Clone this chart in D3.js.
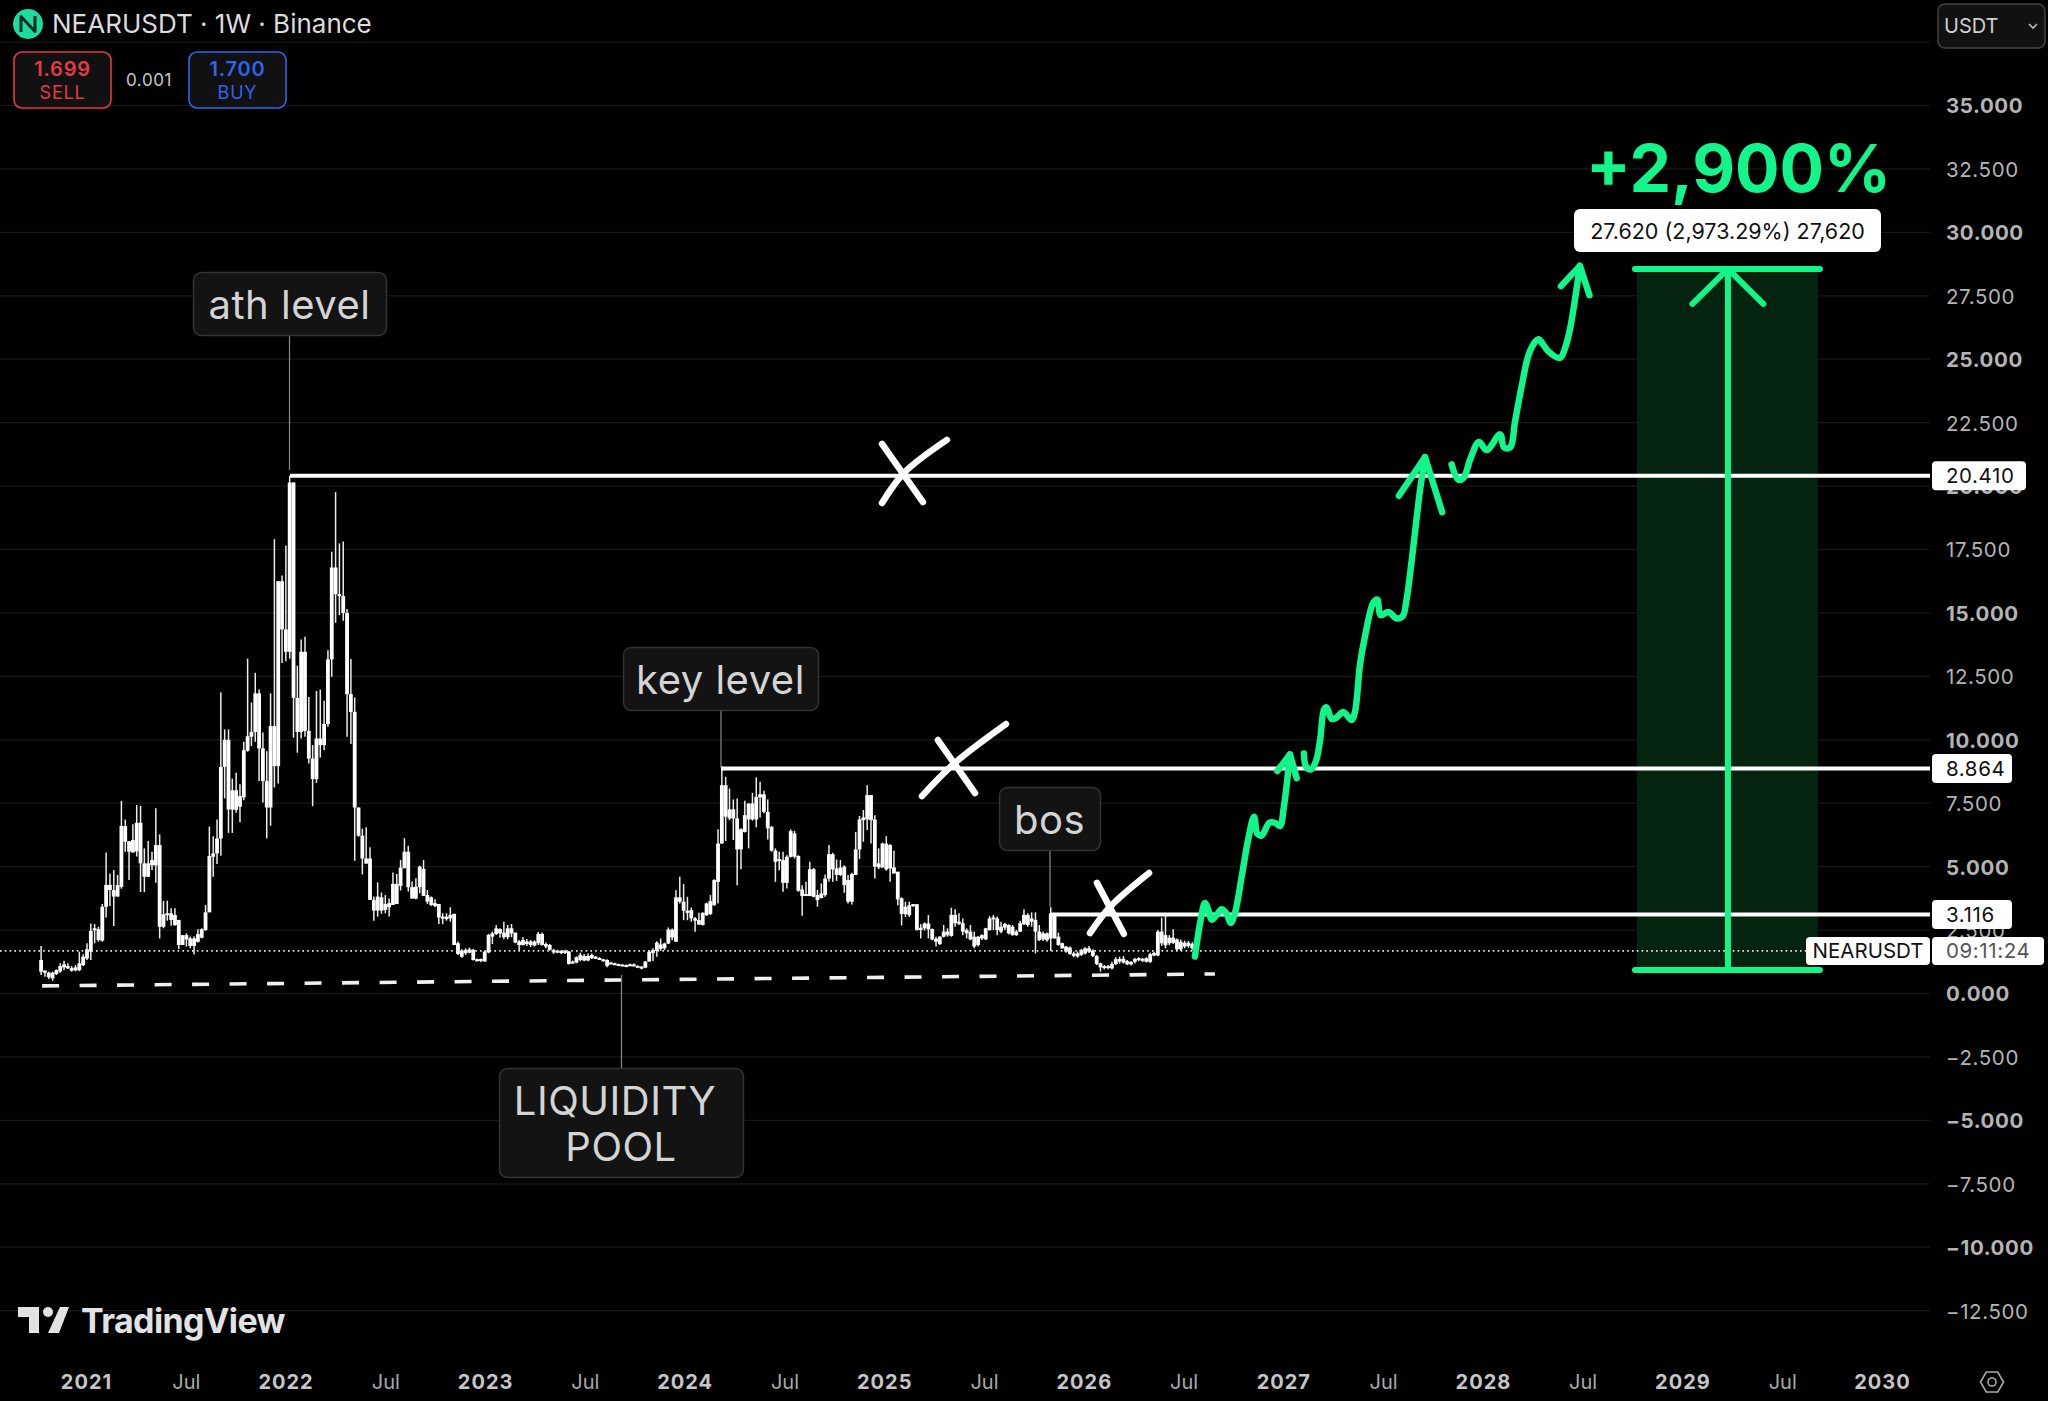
<!DOCTYPE html>
<meta charset="utf-8">
<script src="https://d3js.org/d3.v7.min.js"></script>
<style>
body { margin: 0; background: #000; }
svg { display: block; }
text { font-family: Inter, "Noto Sans", sans-serif; }
</style>
<div id="chart"></div>
<script>
// weekly candles, one entry per week starting in Oct 2020
const firstWeek = 2020.775;
const bodyTop = [
1.32,.90,.82,.82,.92,1.08,1.15,1.08,1.00,1.03,
1.19,1.45,1.74,2.47,2.57,2.54,3.42,4.28,4.28,4.08,
4.28,6.60,6.60,6.00,6.05,6.73,6.73,5.13,5.13,5.26,
5.85,5.85,3.12,3.16,3.16,3.09,2.90,2.30,2.30,2.17,
2.17,2.34,2.53,3.20,5.42,5.52,6.11,8.93,10.00,10.00,
8.01,8.01,7.78,9.59,10.14,10.31,11.83,11.83,9.66,8.38,
10.54,10.54,16.25,16.25,14.35,20.14,20.14,11.65,13.47,13.47,
10.35,9.26,10.05,10.05,10.62,13.17,16.79,16.79,15.74,15.66,
15.00,11.80,11.10,7.33,6.22,5.32,5.32,3.69,3.82,3.79,
3.53,3.56,4.32,4.32,4.96,5.59,5.59,4.19,4.21,5.00,
4.91,3.88,3.79,3.56,3.53,3.03,3.03,3.10,3.14,1.98,
1.69,1.72,1.74,1.72,1.35,1.36,1.65,2.31,2.37,2.57,
2.54,2.40,2.57,2.57,2.40,2.05,2.11,2.05,2.05,2.05,
2.35,2.35,1.95,1.91,1.72,1.69,1.68,1.68,1.65,1.26,
1.43,1.52,1.48,1.48,1.52,1.45,1.40,1.35,1.32,1.22,
1.19,1.16,1.14,1.12,1.15,1.15,1.09,1.06,1.26,1.65,
1.71,2.00,1.93,1.97,2.52,2.52,3.79,3.79,3.62,3.26,
3.29,2.96,2.89,3.18,3.55,3.65,4.47,5.91,8.21,8.21,
7.26,7.26,6.90,6.47,7.03,7.49,7.49,7.75,7.85,7.85,
7.16,6.57,5.63,5.30,5.26,5.39,6.40,6.31,5.42,4.10,
3.92,4.90,4.90,3.88,3.94,4.53,5.49,5.49,4.93,4.96,
5.00,4.47,4.71,5.68,6.86,6.94,7.82,7.82,6.86,5.13,
5.91,5.91,5.85,4.97,4.80,3.75,3.42,3.48,3.52,3.52,
2.59,2.76,2.76,2.54,2.16,2.24,2.44,2.44,3.10,3.10,
2.83,2.77,2.50,2.44,2.24,2.24,2.30,2.57,2.96,3.00,
2.96,2.63,2.74,2.70,2.63,2.44,2.77,3.10,3.10,2.96,
2.90,2.44,2.37,2.37,3.16,3.16,2.24,1.98,1.85,1.81,
1.58,1.58,1.72,1.78,1.78,1.69,1.48,1.19,1.08,1.08,
1.16,1.35,1.36,1.37,1.28,1.24,1.36,1.39,1.37,1.39,
1.55,1.60,2.44,2.44,2.30,2.20,2.20,2.13,2.04,2.00,
2.00,1.95,1.78];
const bodyBottom = [
.86,.83,.64,.60,.77,.87,1.03,.99,.90,.91,
.92,1.12,1.38,1.65,2.53,2.11,2.08,3.42,4.08,3.82,
3.82,4.20,5.98,5.59,5.56,5.60,5.13,4.60,4.60,5.05,
5.05,2.63,2.63,3.09,2.90,2.70,1.91,1.91,2.13,1.87,
1.87,2.04,2.20,2.50,3.20,5.39,5.52,6.11,8.93,7.25,
7.25,7.23,7.36,7.73,9.57,10.12,10.31,9.66,8.38,7.33,
7.33,8.96,8.96,14.35,13.47,13.47,11.65,10.31,10.31,10.35,
9.26,8.45,8.45,9.79,9.79,10.62,13.17,15.74,15.66,15.00,
11.80,11.10,7.33,6.22,5.32,5.12,3.69,3.27,3.27,3.27,
3.29,3.40,3.49,3.53,4.24,4.94,4.19,3.74,3.74,4.19,
3.85,3.62,3.49,3.45,3.00,2.96,2.93,2.96,1.91,1.56,
1.45,1.59,1.61,1.32,1.30,1.30,1.26,1.62,2.24,2.35,
2.37,2.22,2.22,2.37,2.01,1.91,1.91,1.95,1.91,1.89,
1.98,1.91,1.85,1.72,1.62,1.61,1.59,1.61,1.16,1.19,
1.22,1.32,1.30,1.30,1.39,1.38,1.35,1.28,1.09,1.17,
1.15,1.12,1.10,1.09,1.10,1.07,1.05,.98,1.02,1.26,
1.60,1.68,1.76,1.78,1.97,2.21,2.04,3.62,3.26,3.18,
2.96,2.87,2.72,2.70,3.08,3.13,3.48,4.40,5.91,6.97,
6.90,6.90,5.68,5.68,6.37,6.86,6.86,6.86,7.73,7.16,
6.51,5.63,5.19,5.22,4.36,4.36,5.39,5.39,4.05,3.84,
3.88,3.84,3.81,3.68,3.76,3.88,4.53,4.89,4.67,4.67,
4.27,3.62,3.62,4.67,5.68,6.83,6.86,6.83,5.00,4.97,
4.97,4.89,4.93,4.73,3.71,3.13,3.13,3.09,3.46,2.50,
2.50,2.57,2.53,2.13,2.04,1.95,2.24,2.30,2.27,2.77,
2.77,2.44,2.37,2.13,1.85,1.91,2.17,2.13,2.50,2.92,
2.50,2.44,2.60,2.37,2.30,2.30,2.44,2.73,2.70,2.83,
2.44,2.10,2.13,2.10,2.17,2.17,1.91,1.78,1.65,1.56,
1.48,1.46,1.52,1.58,1.65,1.48,1.16,1.03,1.02,1.01,
.99,1.16,1.26,1.22,1.15,1.15,1.25,1.32,1.29,1.25,
1.25,1.50,1.50,1.98,1.90,1.98,2.00,1.74,1.74,1.85,
1.87,1.78,1.65];
const wickHigh = [
1.87,.92,.86,.86,.95,1.19,1.29,1.19,1.08,1.12,
1.65,1.55,1.98,2.76,2.74,2.63,3.53,5.56,4.73,4.87,
4.67,7.59,6.86,6.00,6.67,7.43,7.39,5.72,6.01,5.59,
7.30,6.27,3.65,3.66,3.36,3.36,2.90,2.30,2.37,2.24,
2.26,2.53,2.57,3.49,6.58,6.20,6.86,11.87,10.41,10.41,
8.47,8.70,8.25,9.92,13.20,11.47,12.64,11.98,10.29,9.55,
11.83,17.91,16.25,16.48,17.66,20.41,20.14,12.92,13.95,14.06,
11.69,9.79,11.92,11.98,11.54,13.53,17.41,19.76,17.74,17.82,
15.15,13.18,11.67,7.33,6.50,6.55,5.76,3.82,4.38,3.98,
3.88,3.74,4.77,4.71,5.26,6.12,5.82,4.41,4.54,5.04,
5.26,4.08,3.82,3.71,3.53,3.16,3.16,3.40,3.14,2.05,
1.74,1.78,1.81,1.76,1.38,1.38,1.69,2.35,2.44,2.70,
2.57,2.83,2.70,2.74,2.40,2.11,2.22,2.15,2.11,2.09,
2.43,2.40,2.01,1.95,1.76,1.72,1.70,1.72,1.68,1.30,
1.46,1.61,1.56,1.58,1.58,1.48,1.43,1.37,1.35,1.25,
1.21,1.18,1.16,1.14,1.18,1.18,1.11,1.08,1.28,1.69,
1.78,2.06,2.17,2.00,2.60,2.56,4.07,4.60,4.31,3.81,
3.39,3.02,3.18,3.20,3.58,3.88,4.50,6.47,8.96,8.54,
8.08,7.65,7.69,6.51,7.60,7.49,7.91,8.52,8.35,7.99,
7.65,6.60,5.72,5.59,5.59,5.45,6.47,6.41,5.45,4.27,
4.40,5.19,4.95,4.08,4.34,4.69,5.85,5.55,5.28,5.26,
5.05,4.67,4.76,6.37,7.00,7.23,8.21,7.82,7.03,5.72,
5.95,6.20,5.88,5.63,4.80,3.79,3.62,3.62,3.53,3.52,
2.73,2.80,3.09,2.56,2.24,2.26,2.70,2.57,3.38,3.32,
3.16,2.96,2.57,2.70,2.44,2.26,2.34,2.59,3.05,3.10,
3.03,2.83,2.79,2.73,2.70,2.50,2.87,3.32,3.16,3.20,
3.20,2.70,2.44,2.40,3.40,3.16,2.40,2.00,1.87,1.85,
1.65,1.65,1.76,1.82,1.87,1.74,1.52,1.21,1.12,1.12,
1.25,1.43,1.45,1.48,1.32,1.28,1.40,1.43,1.40,1.43,
1.61,1.65,2.50,2.99,3.09,2.30,2.53,2.17,2.13,2.08,
2.07,2.02,1.85];
const wickLow = [
.73,.66,.57,.50,.73,.82,.92,.97,.86,.88,
.88,1.08,1.32,1.32,1.98,2.04,2.04,3.00,3.45,2.66,
3.82,4.13,5.59,4.47,5.56,5.40,4.00,3.99,4.60,4.87,
4.37,2.17,2.57,2.87,2.67,2.67,1.75,1.91,1.85,1.78,
1.54,2.01,2.17,2.47,3.20,4.60,5.10,5.43,7.69,6.33,
6.33,7.12,6.75,7.62,9.53,9.75,9.92,8.38,7.53,6.11,
6.61,8.12,8.28,13.03,13.10,13.20,10.08,9.49,10.05,10.12,
9.07,7.38,8.30,9.30,9.59,10.51,12.48,14.61,14.91,14.69,
10.12,9.83,5.23,6.18,4.69,5.12,3.69,2.87,3.03,3.14,
3.16,3.03,3.49,3.53,4.06,4.94,4.02,3.74,3.71,3.95,
3.85,3.53,3.45,3.40,2.74,2.73,2.87,2.83,1.91,1.52,
1.41,1.52,1.59,1.30,1.26,1.23,1.26,1.59,1.95,2.31,
2.20,2.14,2.14,2.22,1.98,1.69,1.89,1.87,1.83,1.85,
1.91,1.89,1.78,1.69,1.56,1.59,1.56,1.56,1.14,1.17,
1.19,1.27,1.27,1.27,1.36,1.36,1.33,1.25,1.03,1.15,
1.13,1.10,1.08,1.07,1.08,1.05,1.03,.95,1.00,1.26,
1.28,1.45,1.68,1.71,1.95,2.10,2.04,3.55,2.89,2.89,
2.83,2.43,2.70,2.68,3.06,3.09,3.46,3.55,5.90,6.01,
6.83,6.05,4.27,4.90,6.35,5.72,6.81,6.55,6.94,7.10,
6.07,5.59,4.40,4.86,4.01,4.14,5.36,5.32,4.01,3.06,
3.84,3.84,3.79,3.42,3.75,3.81,4.40,4.40,4.44,4.63,
3.97,3.55,3.51,4.67,5.30,5.98,6.44,5.91,4.53,4.90,
4.95,4.84,4.40,4.73,3.48,2.68,3.02,3.02,3.42,2.48,
2.17,2.48,2.17,2.10,1.85,1.91,2.21,2.24,2.24,2.63,
2.70,2.30,2.17,2.10,1.78,1.85,2.11,2.11,2.48,2.50,
2.30,2.37,2.50,2.33,2.28,2.27,2.42,2.70,2.63,2.63,
1.58,2.07,2.07,2.04,1.68,2.17,1.89,1.76,1.61,1.53,
1.43,1.41,1.48,1.54,1.60,1.44,1.12,.86,.95,.96,
.95,1.12,1.18,1.18,1.12,1.10,1.18,1.27,1.24,1.22,
1.20,1.47,1.47,1.88,1.78,1.90,1.95,1.68,1.68,1.78,
1.80,1.72,1.58];

// axis ticks
const priceTicks = d3.range(-12.5, 37.6, 2.5);
const yearTicks = d3.range(2021, 2031);
const julyTicks = d3.range(2021.5, 2030);

// horizontal levels: [start year, price, label]
const levelYears = [2022.022, 2024.182, 2025.831];
const levelPrices = [20.41, 8.864, 3.116];
const levelLabels = ["20.410", "8.864", "3.116"];
const lastPrice = 1.68;
const trendYears = [2020.78, 2026.657];
const trendPrices = [0.30, 0.77];

// the green hand drawn path, three strokes
const strokeOneYears = [2026.557,2026.586,2026.607,2026.624,2026.641,2026.666,2026.691,2026.716,2026.736,2026.758,2026.791,2026.824,2026.853,2026.870,2026.891,2026.930,2026.958,2026.983,2027.003,2027.033];
const strokeOnePrices = [1.46,2.91,3.57,3.29,2.91,3.10,3.32,3.14,2.78,3.19,4.59,6.08,6.97,6.30,6.22,6.73,6.73,6.60,7.38,9.42];
const strokeTwoYears = [2027.103,2027.113,2027.137,2027.163,2027.184,2027.204,2027.217,2027.242,2027.267,2027.300,2027.342,2027.359,2027.384,2027.409,2027.451,2027.471,2027.487,2027.526,2027.568,2027.598,2027.618,2027.643,2027.685,2027.710];
const strokeTwoPrices = [9.46,8.96,8.83,9.15,9.98,11.19,11.28,10.82,10.88,11.10,10.78,11.10,12.96,14.07,15.41,15.53,14.91,15.04,14.78,14.87,15.56,17.05,19.84,21.14];
const strokeThreeYears = [2027.843,2027.877,2027.902,2027.939,2027.980,2028.019,2028.086,2028.106,2028.136,2028.161,2028.194,2028.236,2028.278,2028.303,2028.328,2028.386,2028.411,2028.436,2028.486];
const strokeThreePrices = [20.86,20.25,20.31,21.11,21.74,21.42,22.04,21.52,21.52,22.54,23.93,25.33,25.79,25.57,25.31,25.05,25.42,26.17,28.68];
const headYears = [[2026.970,2027.033,2027.067],[2027.579,2027.710,2027.796],[2028.391,2028.486,2028.534]];
const headPrices = [[8.77,9.42,8.49],[19.62,21.14,18.97],[27.88,28.68,27.52]];

// long position box
const boxYears = [2028.772, 2029.679];
const boxPrices = [0.93, 28.56];
const capYears = [2028.762, 2029.689];
const boxArrowYear = 2029.228;
const boxHeadYears = [2029.05, 2029.228, 2029.405];
const boxHeadPrices = [27.18, 28.56, 27.18];

// white crosses, each with two strokes
const crossYears = [[[2024.989,2025.194],[2024.989,2025.099,2025.314]],[[2025.269,2025.455],[2025.189,2025.354,2025.610]],[[2026.066,2026.201],[2026.031,2026.131,2026.327]]];
const crossPrices = [[[21.66,19.37],[19.33,20.52,21.82]],[[9.99,7.90],[7.78,9.09,10.62]],[[4.36,2.35],[2.38,3.41,4.75]]];

const W = 2048, H = 1401;
const GREEN = "#12f58a";

const svg = d3.select("#chart").append("svg")
    .attr("width", W)
    .attr("height", H);

svg.append("rect").attr("width", W).attr("height", H).attr("fill", "#000");

const x = d3.scaleLinear().domain([2021, 2030]).range([86, 1882]);
const y = d3.scaleLinear().domain([0, 35]).range([993.5, 105.5]);
const plotRight = 1930;

// grid
svg.selectAll(".grid")
  .data(priceTicks)
  .join("line")
    .attr("x1", 0)
    .attr("x2", plotRight)
    .attr("y1", d => y(d))
    .attr("y2", d => y(d))
    .attr("stroke", "#191919")
    .attr("stroke-width", 1.2);

// long box
svg.append("rect")
    .attr("x", x(boxYears[0]))
    .attr("y", y(boxPrices[1]))
    .attr("width", x(boxYears[1]) - x(boxYears[0]))
    .attr("height", y(boxPrices[0]) - y(boxPrices[1]))
    .attr("fill", "#04240f");

// candles
const weeks = d3.range(bodyTop.length);
const weekX = i => x(firstWeek + i * 7 / 365.25);
svg.append("g").selectAll("line")
  .data(weeks)
  .join("line")
    .attr("x1", weekX)
    .attr("x2", weekX)
    .attr("y1", i => y(wickHigh[i]))
    .attr("y2", i => y(wickLow[i]))
    .attr("stroke", "#ececec")
    .attr("stroke-width", 1.5);
svg.append("g").selectAll("rect")
  .data(weeks)
  .join("rect")
    .attr("x", i => weekX(i) - 1.9)
    .attr("width", 3.8)
    .attr("y", i => y(bodyTop[i]))
    .attr("height", i => Math.max(2, y(bodyBottom[i]) - y(bodyTop[i])))
    .attr("fill", "#fff");

// last price, dotted
svg.append("line")
    .attr("x1", 0)
    .attr("x2", 1806)
    .attr("y1", y(lastPrice))
    .attr("y2", y(lastPrice))
    .attr("stroke", "#e8e8e8")
    .attr("stroke-width", 1.6)
    .attr("stroke-dasharray", "1.6 3.2");

// dashed liquidity line
svg.append("line")
    .attr("x1", x(trendYears[0]))
    .attr("x2", x(trendYears[1]))
    .attr("y1", y(trendPrices[0]))
    .attr("y2", y(trendPrices[1]))
    .attr("stroke", "#f0f0f0")
    .attr("stroke-width", 3.6)
    .attr("stroke-dasharray", "17 20.5");

// levels
svg.selectAll(".level")
  .data(levelPrices)
  .join("line")
    .attr("x1", (d, i) => x(levelYears[i]))
    .attr("x2", plotRight)
    .attr("y1", d => y(d))
    .attr("y2", d => y(d))
    .attr("stroke", "#fff")
    .attr("stroke-width", 4);

// callouts
const callouts = [
  {lines: ["ath level"], x0: 193, x1: 386, y0: 272, y1: 335, lx: 289.5, ly: 470, dir: 1, size: 40},
  {lines: ["key level"], x0: 623, x1: 818, y0: 647, y1: 710, lx: 721, ly: 768, dir: 1, size: 40},
  {lines: ["bos"], x0: 999, x1: 1100, y0: 787, y1: 850, lx: 1050, ly: 907, dir: 1, size: 40},
  {lines: ["LIQUIDITY", "POOL"], x0: 499, x1: 743, y0: 1068, y1: 1177, lx: 621.5, ly: 975, dir: -1, size: 40},
];
const callout = svg.selectAll(".callout").data(callouts).join("g");
callout.append("line")
    .attr("x1", d => d.lx)
    .attr("x2", d => d.lx)
    .attr("y1", d => d.dir > 0 ? d.y1 : d.y0)
    .attr("y2", d => d.ly)
    .attr("stroke", "#8a8a8a")
    .attr("stroke-width", 1.2);
callout.append("rect")
    .attr("x", d => d.x0 + 0.5)
    .attr("y", d => d.y0 + 0.5)
    .attr("width", d => d.x1 - d.x0)
    .attr("height", d => d.y1 - d.y0)
    .attr("rx", 8)
    .attr("fill", "#131313")
    .attr("stroke", "#333")
    .attr("stroke-width", 1.5);
callout.each(function(d) {
    d.lines.forEach((t, i) => {
        d3.select(this).append("text")
            .attr("x", (d.x0 + d.x1) / 2 + (d.lines.length > 1 && i == 0 ? -6 : 0))
            .attr("y", d.lines.length > 1 ? d.y0 + 47 + i * 46 : (d.y0 + d.y1) / 2 + 15)
            .attr("text-anchor", "middle")
            .attr("fill", "#d4d4d4")
            .style("font-size", d.size + "px")
            .style("letter-spacing", "0.5px")
            .text(t);
    });
});

// hand drawn green path
const curve = d3.line().x(d => x(d[0])).y(d => y(d[1])).curve(d3.curveCatmullRom.alpha(0.5));
const straight = d3.line().x(d => x(d[0])).y(d => y(d[1]));
const green = svg.append("g")
    .attr("fill", "none")
    .attr("stroke", GREEN)
    .attr("stroke-linecap", "round")
    .attr("stroke-linejoin", "round");
[[strokeOneYears, strokeOnePrices], [strokeTwoYears, strokeTwoPrices], [strokeThreeYears, strokeThreePrices]].forEach(s => {
    green.append("path")
        .attr("d", curve(d3.zip(s[0], s[1])))
        .attr("stroke-width", 6.5);
});
headYears.forEach((h, i) => {
    green.append("path")
        .attr("d", straight(d3.zip(h, headPrices[i])))
        .attr("stroke-width", 6.5);
});

// box arrow and caps
boxPrices.forEach(p => {
    green.append("line")
        .attr("x1", x(capYears[0])).attr("x2", x(capYears[1]))
        .attr("y1", y(p)).attr("y2", y(p))
        .attr("stroke-width", 6);
});
green.append("line")
    .attr("x1", x(boxArrowYear)).attr("x2", x(boxArrowYear))
    .attr("y1", y(boxPrices[0])).attr("y2", y(boxPrices[1]))
    .attr("stroke-width", 6);
green.append("path")
    .attr("d", straight(d3.zip(boxHeadYears, boxHeadPrices)))
    .attr("stroke-width", 6);

// crosses
const crosses = svg.append("g")
    .attr("fill", "none")
    .attr("stroke", "#fff")
    .attr("stroke-width", 6.5)
    .attr("stroke-linecap", "round");
crossYears.forEach((c, i) => {
    c.forEach((s, j) => {
        crosses.append("path").attr("d", curve(d3.zip(s, crossPrices[i][j])));
    });
});

// price axis
const yAxis = svg.append("g")
    .attr("transform", "translate(1946,0)")
    .call(d3.axisRight(y)
        .tickValues(priceTicks.slice(0, -1))
        .tickSize(0)
        .tickPadding(0)
        .tickFormat(d3.format(".3f")));
yAxis.select(".domain").remove();
yAxis.selectAll("text")
    .attr("dy", "0.36em")
    .attr("fill", "#b4b4b4")
    .style("font-family", "Inter, sans-serif")
    .style("font-size", "20.5px")
    .style("letter-spacing", "0.6px")
    .style("font-weight", d => d % 5 === 0 ? 700 : 400);

// time axis
const timeAxis = svg.append("g")
    .attr("transform", "translate(0,1382)")
    .call(d3.axisBottom(x)
        .tickValues(yearTicks.concat(julyTicks))
        .tickSize(0)
        .tickFormat(d => Number.isInteger(d) ? d3.format("d")(d) : "Jul"));
timeAxis.select(".domain").remove();
timeAxis.selectAll("text")
    .attr("y", 0)
    .attr("dy", "0.36em")
    .attr("fill", d => Number.isInteger(d) ? "#c6c6c6" : "#a8a8a8")
    .style("font-family", "Inter, sans-serif")
    .style("font-size", "20px")
    .style("letter-spacing", d => Number.isInteger(d) ? "1px" : "0")
    .style("font-weight", d => Number.isInteger(d) ? 700 : 400);

// level tags
const tagRight = [2026, 2012, 2012];
levelPrices.forEach((p, i) => {
    svg.append("rect")
        .attr("x", 1932).attr("y", y(p) - 14.5)
        .attr("width", tagRight[i] - 1932).attr("height", 29)
        .attr("rx", 4).attr("fill", "#fff");
    svg.append("text")
        .attr("x", 1946).attr("y", y(p) + 7.5)
        .attr("fill", "#111")
        .style("font-size", "20.5px")
        .style("letter-spacing", "0.6px")
        .text(levelLabels[i]);
});

// symbol and countdown tags
svg.append("rect").attr("x", 1806).attr("y", y(lastPrice) - 14).attr("width", 124).attr("height", 28).attr("rx", 4).attr("fill", "#fff");
svg.append("rect").attr("x", 1932).attr("y", y(lastPrice) - 14).attr("width", 112).attr("height", 28).attr("rx", 4).attr("fill", "#fff");
svg.append("text").attr("x", 1868).attr("y", y(lastPrice) + 7.5).attr("text-anchor", "middle")
    .attr("fill", "#111").style("font-size", "20.5px").text("NEARUSDT");
svg.append("text").attr("x", 1946).attr("y", y(lastPrice) + 7.5)
    .attr("fill", "#555").style("font-size", "20.5px").style("letter-spacing", "0.6px").text("09:11:24");

// big percent and measure tag
svg.append("text")
    .attr("x", 1586).attr("y", 192)
    .attr("fill", GREEN)
    .style("font-size", "66px")
    .style("font-weight", 700)
    .text("+2,900%");
svg.append("rect").attr("x", 1574).attr("y", 209).attr("width", 307).attr("height", 43).attr("rx", 6).attr("fill", "#fff");
svg.append("text").attr("x", 1727.5).attr("y", 238.5).attr("text-anchor", "middle")
    .attr("fill", "#111").style("font-size", "21.5px").text("27.620 (2,973.29%) 27,620");

// header
svg.append("circle").attr("cx", 28).attr("cy", 24).attr("r", 15).attr("fill", "#1bdba0");
svg.append("path")
    .attr("d", "M21 32V16.5L35 31.5V16")
    .attr("fill", "none").attr("stroke", "#062a20").attr("stroke-width", 3).attr("stroke-linejoin", "round");
svg.append("text").attr("x", 52).attr("y", 33)
    .attr("fill", "#dcdcdc").style("font-size", "26px")
    .text("NEARUSDT · 1W · Binance");

const orderButtons = [
  {price: "1.699", side: "SELL", x0: 14, color: "#e5394a"},
  {price: "1.700", side: "BUY", x0: 189, color: "#2f64ea"},
];
const btn = svg.selectAll(".btn").data(orderButtons).join("g");
btn.append("rect")
    .attr("x", d => d.x0).attr("y", 52).attr("width", 97).attr("height", 56).attr("rx", 8)
    .attr("fill", "#111").attr("stroke", d => d.color).attr("stroke-width", 1.6);
btn.append("text")
    .attr("x", d => d.x0 + 48.5).attr("y", 76).attr("text-anchor", "middle")
    .attr("fill", d => d.color).style("font-size", "20px").style("font-weight", 600).style("letter-spacing", "0.8px")
    .text(d => d.price);
btn.append("text")
    .attr("x", d => d.x0 + 48.5).attr("y", 99).attr("text-anchor", "middle")
    .attr("fill", d => d.color).style("font-size", "18px").style("letter-spacing", "0.8px")
    .text(d => d.side);
svg.append("text").attr("x", 149).attr("y", 86).attr("text-anchor", "middle")
    .attr("fill", "#c8c8c8").style("font-size", "17px").style("letter-spacing", "0.6px").text("0.001");

// currency button
svg.append("rect").attr("x", 1938).attr("y", 4).attr("width", 107).attr("height", 44).attr("rx", 7)
    .attr("fill", "#111").attr("stroke", "#444").attr("stroke-width", 1.4);
svg.append("text").attr("x", 1944).attr("y", 33).attr("fill", "#cfcfcf").style("font-size", "20px").text("USDT");
svg.append("path").attr("d", "M2029 24l4 4 4-4").attr("fill", "none").attr("stroke", "#bbb").attr("stroke-width", 1.6);

// settings icon
svg.append("path")
    .attr("d", d3.line()(d3.range(6).map(i => [1992 + 11.5 * Math.cos(i * Math.PI / 3), 1382 + 11.5 * Math.sin(i * Math.PI / 3)])) + "Z")
    .attr("fill", "none").attr("stroke", "#aaa").attr("stroke-width", 1.6);
svg.append("circle").attr("cx", 1992).attr("cy", 1382).attr("r", 4).attr("fill", "none").attr("stroke", "#aaa").attr("stroke-width", 1.6);

// logo
svg.append("path").attr("d", "M18 1307H39V1333H29V1317H18Z").attr("fill", "#e2e2e2");
svg.append("circle").attr("cx", 48).attr("cy", 1312).attr("r", 5).attr("fill", "#e2e2e2");
svg.append("path").attr("d", "M60 1307H69L59 1333H48Z").attr("fill", "#e2e2e2");
svg.append("text").attr("x", 81).attr("y", 1333)
    .attr("fill", "#e2e2e2").style("font-size", "34px").style("font-weight", 700).style("letter-spacing", "-0.6px")
    .text("TradingView");
</script>
